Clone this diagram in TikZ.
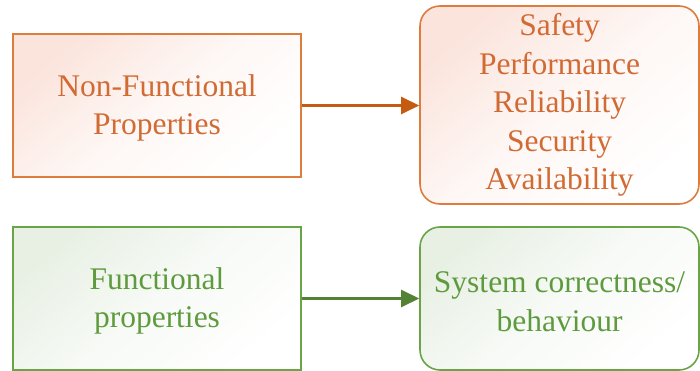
\documentclass[tikz,border=0pt]{standalone}
\usepackage{fontspec}
\setmainfont{LiberationSerif-Regular.ttf}
\usetikzlibrary{arrows.meta}

\definecolor{nfline}{RGB}{222,124,62}
\definecolor{nftext}{RGB}{210,106,52}
\definecolor{nfarrow}{RGB}{197,90,17}
\definecolor{nffill}{RGB}{251,228,220}
\definecolor{fline}{RGB}{106,164,71}
\definecolor{ftext}{RGB}{94,155,62}
\definecolor{farrow}{RGB}{84,130,53}
\definecolor{ffill}{RGB}{232,240,228}

% taller first line, so two-line labels sit a little lower in their box
\newcommand{\toplift}{\rule{0pt}{27pt}}

\tikzset{
  boxbase/.style={draw, line width=1.6pt, align=center, inner sep=0pt,
    font=\fontsize{31.5}{38.5}\selectfont},
  nfbox/.style={boxbase, draw=nfline, text=nftext,
    top color=nffill, bottom color=white, middle color=nffill!30!white,
    shading angle=40},
  fbox/.style={boxbase, draw=fline, text=ftext,
    top color=ffill, bottom color=white, middle color=ffill!35!white,
    shading angle=40},
  leftsize/.style={minimum width=288pt, minimum height=143pt},
  rightsize/.style={rounded corners=20pt, minimum width=279pt},
  link/.style={line width=2.4pt, -{Triangle[length=18pt,width=17pt]}}
}

\begin{document}
\begin{tikzpicture}[x=1pt,y=-1pt]
  \useasboundingbox (0,0) rectangle (700,371);

  % non-functional row
  \node[nfbox, leftsize] (nf) at (157,105.5) {\toplift Non-Functional\\Properties};
  \node[nfbox, rightsize, minimum height=198pt] (nfr) at (559.5,105)
    {Safety\\Performance\\Reliability\\Security\\Availability};
  \draw[link, nfarrow] (nf.east) -- (nfr.west |- nf.east);

  % functional row
  \node[fbox, leftsize] (f) at (157,298.5) {\toplift Functional\\properties};
  \node[fbox, rightsize, minimum height=143pt] (fr) at (559.5,298.5)
    {\toplift System correctness/\\behaviour};
  \draw[link, farrow] (f.east) -- (fr.west);
\end{tikzpicture}
\end{document}
